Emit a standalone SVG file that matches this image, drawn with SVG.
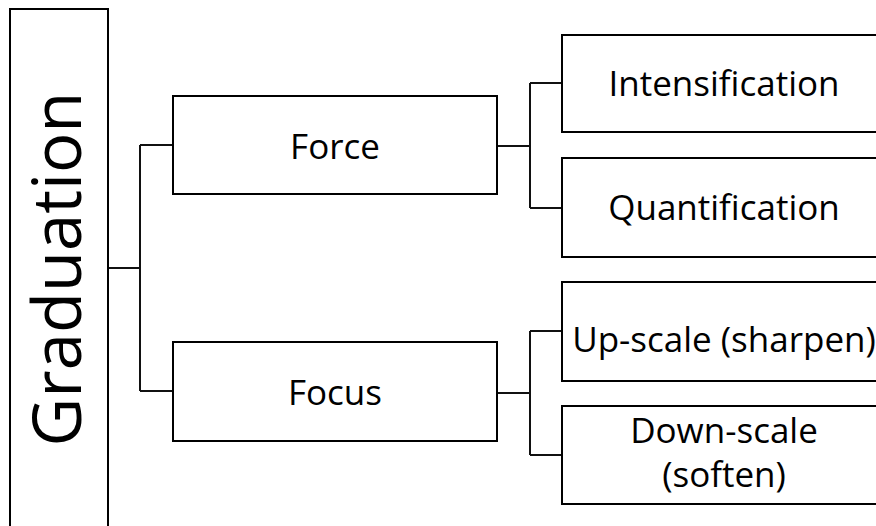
<svg xmlns="http://www.w3.org/2000/svg" width="876" height="526" viewBox="0 0 876 526">
<style>
.box{fill:#fff;stroke:#000;stroke-width:2}
.lbl{font-family:"Open Sans","Liberation Sans",sans-serif;font-size:35px;fill:#000;text-anchor:middle}
.con{fill:none;stroke:#111;stroke-width:2}
</style>
<rect width="876" height="526" fill="#fff"/>
<g id="connectors">
<path class="con" d="M108 268H140M140 145V391M140 145H173M140 391H173"/>
<path class="con" d="M497 146H530M530 83V208M530 83H562M530 208H562"/>
<path class="con" d="M497 393H530M530 331V455M530 331H562M530 455H562"/>
</g>
<g id="graduation">
<rect class="box" x="10" y="9" width="98" height="530"/>
<text class="lbl" style="font-size:67px" transform="translate(81 269) rotate(-90)" x="0" y="0">Graduation</text>
</g>
<g id="force">
<rect class="box" x="173" y="96" width="324" height="98"/>
<text class="lbl" x="335" y="159">Force</text>
</g>
<g id="focus">
<rect class="box" x="173" y="342" width="324" height="99"/>
<text class="lbl" x="335" y="405">Focus</text>
</g>
<g id="intensification">
<rect class="box" x="562" y="35" width="330" height="97"/>
<text class="lbl" x="724" y="96">Intensification</text>
</g>
<g id="quantification">
<rect class="box" x="562" y="158" width="330" height="99"/>
<text class="lbl" x="724" y="220">Quantification</text>
</g>
<g id="upscale">
<rect class="box" x="562" y="282" width="330" height="99"/>
<text class="lbl" x="724" y="352">Up-scale (sharpen)</text>
</g>
<g id="downscale">
<rect class="box" x="562" y="406" width="330" height="98"/>
<text class="lbl" x="724" y="443">Down-scale</text>
<text class="lbl" x="724" y="487">(soften)</text>
</g>
</svg>
